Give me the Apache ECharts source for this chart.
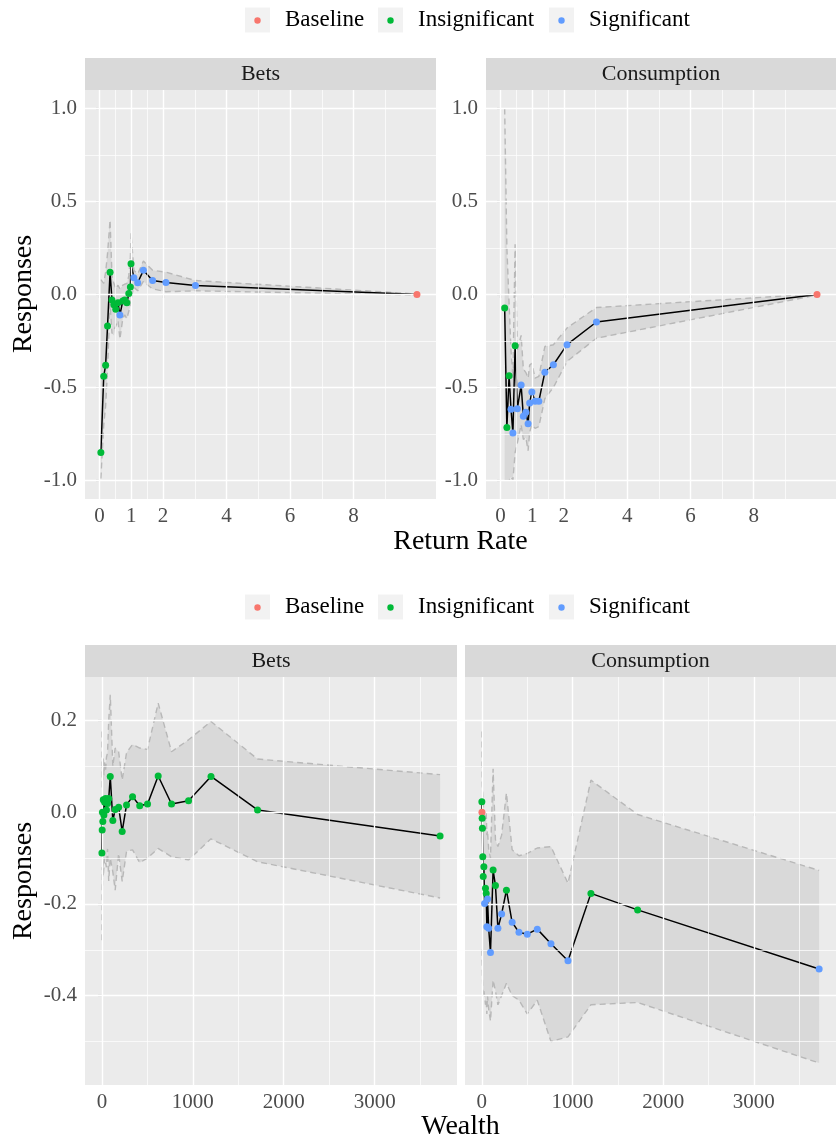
<!DOCTYPE html>
<html>
<head>
<meta charset="utf-8">
<script src="https://cdn.jsdelivr.net/npm/echarts@6/dist/echarts.min.js"></script>
<style>
html, body { margin: 0; padding: 0; background: #fff; }
#chart { width: 837px; height: 1142px; }
</style>
</head>
<body>
<div id="chart"></div>
<script>
// ---- Responses by return rate: Bets ----
const betsRateX      = [0.04, 0.13, 0.19, 0.25, 0.33, 0.39, 0.45, 0.51, 0.58, 0.64, 0.73, 0.79, 0.86, 0.92, 0.97, 0.99, 1.08, 1.2, 1.38, 1.67, 2.09, 3.02, 10];
const betsRateY      = [-0.85, -0.44, -0.38, -0.17, 0.12, -0.03, -0.055, -0.08, -0.045, -0.11, -0.035, -0.03, -0.045, 0.005, 0.04, 0.165, 0.09, 0.063, 0.13, 0.075, 0.065, 0.048, 0];
const betsRateHi     = [0.08, 0.06, 0.12, 0.22, 0.40, 0.10, 0.06, 0.03, 0.05, 0.03, 0.05, 0.06, 0.06, 0.10, 0.20, 0.33, 0.13, 0.11, 0.18, 0.13, 0.12, 0.075, 0.003];
const betsRateLo     = [-0.99, -0.70, -0.60, -0.40, -0.05, -0.21, -0.22, -0.17, -0.14, -0.24, -0.13, -0.11, -0.13, -0.09, -0.06, -0.02, 0.04, 0.02, 0.07, 0.03, 0.015, 0.02, -0.003];
const betsRateStatus = ['I','I','I','I','I','I','I','I','I','S','I','I','I','I','I','I','S','S','S','S','S','S','B'];

// ---- Responses by return rate: Consumption ----
const consRateX      = [0.13, 0.20, 0.27, 0.33, 0.39, 0.46, 0.53, 0.65, 0.72, 0.80, 0.87, 0.92, 0.99, 1.09, 1.21, 1.40, 1.67, 2.10, 3.03, 10];
const consRateY      = [-0.072, -0.715, -0.437, -0.617, -0.745, -0.276, -0.614, -0.487, -0.655, -0.634, -0.695, -0.583, -0.524, -0.574, -0.574, -0.418, -0.378, -0.27, -0.148, 0];
const consRateHi     = [1.0, 0.25, -0.05, -0.30, -0.45, 0.27, -0.30, -0.22, -0.40, -0.42, -0.45, -0.38, -0.37, -0.45, -0.44, -0.28, -0.27, -0.18, -0.07, 0.003];
const consRateLo     = [-1.0, -1.0, -1.0, -0.98, -1.0, -0.85, -0.80, -0.70, -0.78, -0.77, -0.84, -0.74, -0.70, -0.72, -0.71, -0.56, -0.50, -0.36, -0.235, -0.003];
const consRateStatus = ['I','I','I','S','S','I','S','S','S','S','S','S','S','S','S','S','S','S','S','B'];

// ---- Responses by wealth: Bets ----
const betsWealthX      = [0, 3, 6, 10, 15, 22, 30, 40, 50, 62, 75, 92, 120, 146, 184, 223, 271, 337, 416, 502, 619, 766, 953, 1200, 1712, 3720];
const betsWealthY      = [-0.089, -0.039, 0.0, -0.02, 0.027, -0.006, 0.022, 0.03, 0.005, 0.019, 0.03, 0.078, -0.018, 0.006, 0.011, -0.042, 0.016, 0.034, 0.014, 0.018, 0.079, 0.018, 0.025, 0.078, 0.005, -0.052];
const betsWealthHi     = [0.176, 0.05, 0.10, 0.07, 0.12, 0.08, 0.11, 0.09, 0.12, 0.13, 0.20, 0.256, 0.10, 0.14, 0.132, 0.07, 0.13, 0.148, 0.14, 0.137, 0.238, 0.132, 0.158, 0.198, 0.116, 0.082];
const betsWealthLo     = [-0.279, -0.12, -0.16, -0.10, -0.14, -0.12, -0.10, -0.10, -0.12, -0.08, -0.15, -0.10, -0.13, -0.17, -0.09, -0.151, -0.085, -0.082, -0.11, -0.10, -0.079, -0.097, -0.104, -0.058, -0.108, -0.187];
const betsWealthStatus = ['I','I','I','I','I','I','I','I','I','I','I','I','I','I','I','I','I','I','I','I','I','I','I','I','I','I'];

// ---- Responses by wealth: Consumption ----
const consWealthX      = [0, 1, 3, 6, 10, 15, 22, 30, 40, 48, 55, 62, 75, 95, 124, 150, 177, 218, 271, 334, 409, 501, 611, 762, 950, 1203, 1718, 3720];
const consWealthY      = [0.023, 0, -0.013, -0.035, -0.097, -0.14, -0.119, -0.199, -0.166, -0.177, -0.25, -0.189, -0.253, -0.306, -0.126, -0.16, -0.253, -0.222, -0.17, -0.24, -0.262, -0.266, -0.255, -0.287, -0.324, -0.177, -0.213, -0.342];
const consWealthHi     = [0.176, 0.10, 0.06, 0.05, 0.04, 0.02, 0.0, -0.02, -0.01, 0.0, -0.05, -0.04, -0.08, -0.10, 0.095, -0.06, -0.075, -0.05, 0.042, -0.082, -0.095, -0.09, -0.078, -0.075, -0.155, 0.07, -0.005, -0.127];
const consWealthLo     = [-0.30, -0.32, -0.33, -0.36, -0.38, -0.40, -0.39, -0.40, -0.42, -0.41, -0.44, -0.40, -0.43, -0.455, -0.366, -0.39, -0.42, -0.40, -0.373, -0.40, -0.41, -0.44, -0.41, -0.50, -0.49, -0.42, -0.415, -0.547];
const consWealthStatus = ['I','B','I','I','I','I','I','S','I','I','S','S','S','S','I','I','S','S','I','S','S','S','S','S','S','I','I','S'];

// ---- Axis breaks ----
const rateTicks        = [0, 1, 2, 4, 6, 8];
const rateMinorTicks   = [0.5, 1.5, 3, 5, 7, 9];
const rateYTicks       = [-1, -0.5, 0, 0.5, 1];
const rateYMinorTicks  = [-0.75, -0.25, 0.25, 0.75];
const wealthTicks      = [0, 1000, 2000, 3000];
const wealthMinorTicks = [500, 1500, 2500, 3500];
const wealthYTicks     = [-0.4, -0.2, 0, 0.2];
const wealthYMinorTicks = [-0.5, -0.3, -0.1, 0.1];

const facetNames  = ['Bets', 'Consumption'];
const legendNames = ['Baseline', 'Insignificant', 'Significant'];
const statusColor = { B: '#F8766D', I: '#00BA38', S: '#619CFF' };

const SERIF = '"Liberation Serif", "Times New Roman", serif';

const panels = [
  { x: betsRateX, y: betsRateY, hi: betsRateHi, lo: betsRateLo, st: betsRateStatus,
    grid: { left: 85, top: 90, width: 351, height: 409 },
    xr: [-0.46, 10.6], yr: [-1.1, 1.1], xt: rateTicks, xm: rateMinorTicks, yt: rateYTicks, ym: rateYMinorTicks, showY: true },
  { x: consRateX, y: consRateY, hi: consRateHi, lo: consRateLo, st: consRateStatus,
    grid: { left: 486, top: 90, width: 350, height: 409 },
    xr: [-0.46, 10.6], yr: [-1.1, 1.1], xt: rateTicks, xm: rateMinorTicks, yt: rateYTicks, ym: rateYMinorTicks, showY: true },
  { x: betsWealthX, y: betsWealthY, hi: betsWealthHi, lo: betsWealthLo, st: betsWealthStatus,
    grid: { left: 85, top: 677, width: 372, height: 408 },
    xr: [-186, 3906], yr: [-0.595, 0.295], xt: wealthTicks, xm: wealthMinorTicks, yt: wealthYTicks, ym: wealthYMinorTicks, showY: true },
  { x: consWealthX, y: consWealthY, hi: consWealthHi, lo: consWealthLo, st: consWealthStatus,
    grid: { left: 465, top: 677, width: 371, height: 408 },
    xr: [-186, 3906], yr: [-0.595, 0.295], xt: wealthTicks, xm: wealthMinorTicks, yt: wealthYTicks, ym: wealthYMinorTicks, showY: false }
];

const grids = [], xAxes = [], yAxes = [], series = [];

panels.forEach((p, i) => {
  grids.push(Object.assign({ show: true, backgroundColor: '#EBEBEB', borderWidth: 0, containLabel: false }, p.grid));

  xAxes.push({
    type: 'value', gridIndex: i, min: p.xr[0], max: p.xr[1],
    axisLine: { show: false },
    splitLine: { show: false },
    axisTick: { show: true, length: 4, customValues: p.xt, lineStyle: { color: '#333333', width: 1.1 } },
    axisLabel: { show: true, customValues: p.xt, margin: 7, fontFamily: SERIF, fontSize: 21, color: '#4D4D4D',
                 formatter: v => String(v) }
  });
  yAxes.push({
    type: 'value', gridIndex: i, min: p.yr[0], max: p.yr[1],
    axisLine: { show: false },
    splitLine: { show: false },
    axisTick: { show: p.showY, length: 4, customValues: p.yt, lineStyle: { color: '#333333', width: 1.1 } },
    axisLabel: { show: p.showY, customValues: p.yt, margin: 8, fontFamily: SERIF, fontSize: 21, color: '#4D4D4D',
                 formatter: v => v.toFixed(1) }
  });

  // panel grid lines (major and minor), white on grey
  const glines = [];
  p.xt.forEach(v => glines.push({ xAxis: v, lineStyle: { width: 1.4 } }));
  p.xm.forEach(v => glines.push({ xAxis: v, lineStyle: { width: 0.7 } }));
  p.yt.forEach(v => glines.push({ yAxis: v, lineStyle: { width: 1.4 } }));
  p.ym.forEach(v => glines.push({ yAxis: v, lineStyle: { width: 0.7 } }));
  series.push({
    type: 'line', xAxisIndex: i, yAxisIndex: i, z: 1, silent: true,
    data: [[p.xr[0], p.yr[0]]], showSymbol: false, lineStyle: { opacity: 0 },
    markLine: { silent: true, symbol: ['none', 'none'], label: { show: false }, animation: false,
                lineStyle: { color: '#FFFFFF', type: 'solid' }, emphasis: { disabled: true }, data: glines }
  });

  // confidence ribbon
  series.push({
    type: 'custom', xAxisIndex: i, yAxisIndex: i, z: 2, silent: true,
    data: p.x.map((v, k) => [v, p.lo[k], p.hi[k]]),
    encode: { x: 0, y: [1, 2] },
    renderItem: (params, api) => {
      if (params.dataIndex !== 0) return null;
      const pts = [];
      for (let k = 0; k < p.x.length; k++) pts.push(api.coord([p.x[k], p.hi[k]]));
      for (let k = p.x.length - 1; k >= 0; k--) pts.push(api.coord([p.x[k], p.lo[k]]));
      return { type: 'polygon', shape: { points: pts }, style: { fill: 'rgba(190,190,190,0.4)' } };
    }
  });

  // dashed ribbon edges
  [p.hi, p.lo].forEach(arr => {
    series.push({
      type: 'line', xAxisIndex: i, yAxisIndex: i, z: 3, silent: true, showSymbol: false,
      data: p.x.map((v, k) => [v, arr[k]]),
      lineStyle: { color: '#B8B8B8', width: 1.4, type: [6, 4] }
    });
  });

  // estimate line
  series.push({
    type: 'line', xAxisIndex: i, yAxisIndex: i, z: 4, silent: true, showSymbol: false,
    data: p.x.map((v, k) => [v, p.y[k]]),
    lineStyle: { color: '#000000', width: 1.5 }
  });

  // estimate points coloured by significance
  series.push({
    type: 'scatter', xAxisIndex: i, yAxisIndex: i, z: 5, silent: true,
    symbol: 'circle', symbolSize: 7,
    data: p.x.map((v, k) => [v, p.y[k]]),
    itemStyle: { color: params => statusColor[p.st[params.dataIndex]], opacity: 1 }
  });
});

// legends, facet strips and axis titles
const graphics = [];

function legendRow(cy) {
  const keys = [245, 378, 549];
  const texts = [285, 418, 589];
  const codes = ['B', 'I', 'S'];
  legendNames.forEach((name, k) => {
    graphics.push({ type: 'rect', shape: { x: keys[k], y: cy - 12.5, width: 25, height: 25 }, style: { fill: '#F2F2F2' } });
    graphics.push({ type: 'circle', shape: { cx: keys[k] + 12.5, cy: cy + 0.5, r: 3.2 }, style: { fill: statusColor[codes[k]] } });
    graphics.push({ type: 'text', x: texts[k], y: cy, style: { text: name, font: '23px ' + SERIF, fill: '#000000', textVerticalAlign: 'middle', textAlign: 'left' } });
  });
}
legendRow(20);
legendRow(607);

function stripRow(top, panelA, panelB) {
  [panelA, panelB].forEach((g, k) => {
    graphics.push({ type: 'rect', shape: { x: g.left, y: top, width: g.width, height: 32 }, style: { fill: '#D9D9D9' } });
    graphics.push({ type: 'text', x: g.left + g.width / 2, y: top + 16.5,
      style: { text: facetNames[k], font: '22px ' + SERIF, fill: '#1A1A1A', textAlign: 'center', textVerticalAlign: 'middle' } });
  });
}
stripRow(58, panels[0].grid, panels[1].grid);
stripRow(645, panels[2].grid, panels[3].grid);

graphics.push({ type: 'text', x: 460.5, y: 542, style: { text: 'Return Rate', font: '28px ' + SERIF, fill: '#000000', textAlign: 'center', textVerticalAlign: 'middle' } });
graphics.push({ type: 'text', x: 460.5, y: 1127, style: { text: 'Wealth', font: '28px ' + SERIF, fill: '#000000', textAlign: 'center', textVerticalAlign: 'middle' } });
graphics.push({ type: 'text', x: 24, y: 294, rotation: Math.PI / 2, style: { text: 'Responses', font: '28px ' + SERIF, fill: '#000000', textAlign: 'center', textVerticalAlign: 'middle' } });
graphics.push({ type: 'text', x: 24, y: 881, rotation: Math.PI / 2, style: { text: 'Responses', font: '28px ' + SERIF, fill: '#000000', textAlign: 'center', textVerticalAlign: 'middle' } });

const chart = echarts.init(document.getElementById('chart'), null, { renderer: 'canvas', width: 837, height: 1142 });
chart.setOption({
  backgroundColor: '#FFFFFF',
  animation: false,
  grid: grids,
  xAxis: xAxes,
  yAxis: yAxes,
  series: series,
  graphic: graphics
});
</script>
</body>
</html>
